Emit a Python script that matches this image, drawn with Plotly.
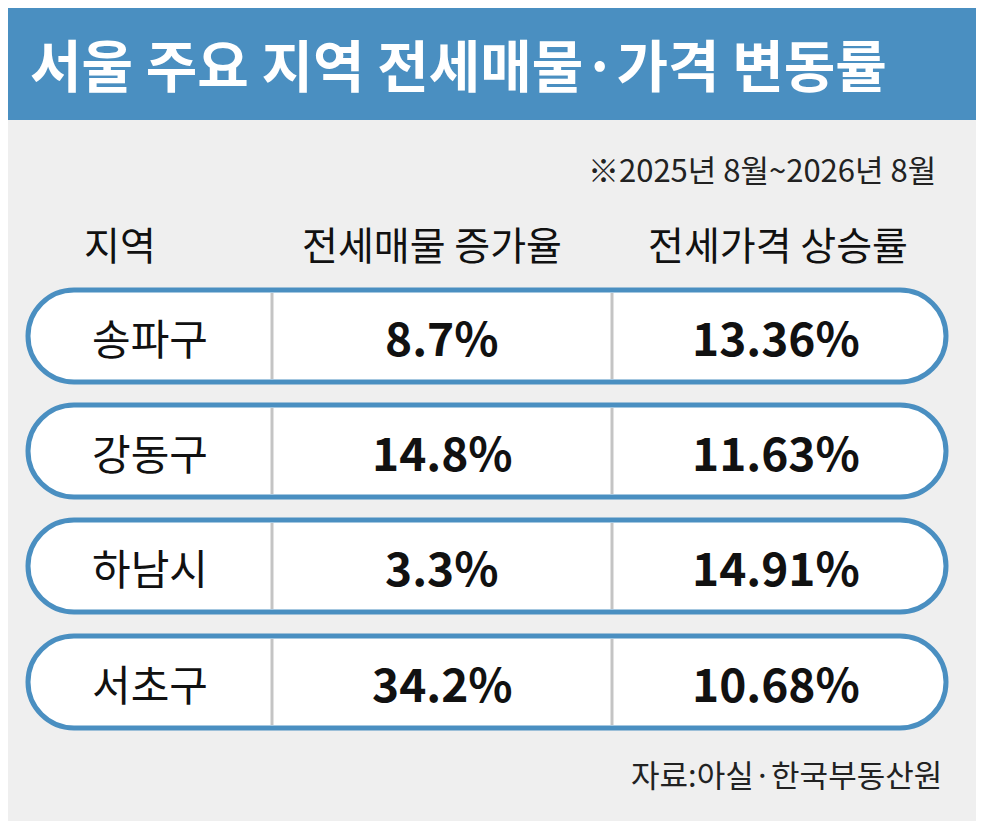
import plotly.graph_objects as go

title = "서울 주요 지역 전세매물·가격 변동률"
period = "※2025년 8월~2026년 8월"
headers = ["지역", "전세매물 증가율", "전세가격 상승률"]
regions = ["송파구", "강동구", "하남시", "서초구"]
listing_growth = ["8.7%", "14.8%", "3.3%", "34.2%"]
price_growth = ["13.36%", "11.63%", "14.91%", "10.68%"]
source = "자료:아실·한국부동산원"

W, H = 984, 821
OFF = 8
BLUE = "#4a8fc1"
FONT = "Noto Sans CJK KR"

fig = go.Figure()
shapes = []
ann = []

shapes.append(dict(type="rect", x0=-20, x1=W+20, y0=-20, y1=120, fillcolor=BLUE, line_width=0, layer="below"))
ann.append(dict(x=28, y=62, text="<b>"+title+"</b>", xanchor="left", font=dict(size=56, color="white", family=FONT)))
ann.append(dict(x=938, y=168, text=period, xanchor="right", font=dict(size=31, color="#222", family=FONT)))

col_x = [120, 432, 778]
for cx, h in zip(col_x, headers):
    ann.append(dict(x=cx, y=243, text=h, font=dict(size=39, color="#111", family=FONT)))

def pill(x0, y0, x1, y1):
    r = (y1 - y0) / 2
    k = 0.5523 * r
    return (f"M {x0+r},{y0} L {x1-r},{y0} C {x1-r+k},{y0} {x1},{y1-r-k} {x1},{y0+r} "
            f"C {x1},{y0+r+k} {x1-r+k},{y1} {x1-r},{y1} L {x0+r},{y1} "
            f"C {x0+r-k},{y1} {x0},{y0+r+k} {x0},{y0+r} C {x0},{y0+r-k} {x0+r-k},{y0} {x0+r},{y0} Z")

row_top = [290, 405, 520, 636]
rh = 92
for i, yt in enumerate(row_top):
    shapes.append(dict(type="path", path=pill(28, yt, 946, yt+rh), fillcolor="white",
                       line=dict(color=BLUE, width=5)))
    for dx in (272, 612):
        shapes.append(dict(type="line", x0=dx, x1=dx, y0=yt+3, y1=yt+rh-3, line=dict(color="#c4c4c4", width=3)))
    yc = yt + rh/2
    ann.append(dict(x=150, y=yc, text=regions[i], font=dict(size=42, color="#111", family=FONT)))
    ann.append(dict(x=442, y=yc, text="<b>"+listing_growth[i]+"</b>", font=dict(size=46, color="#111", family=FONT)))
    ann.append(dict(x=776, y=yc, text="<b>"+price_growth[i]+"</b>", font=dict(size=46, color="#111", family=FONT)))

ann.append(dict(x=944, y=773, text=source, xanchor="right", font=dict(size=31, color="#222", family=FONT)))
for a in ann:
    a.update(xref="x", yref="y", showarrow=False)
    a.setdefault("xanchor", "center")
    a["yanchor"] = "middle"

fig.update_layout(width=W, height=H, margin=dict(l=0, r=0, t=0, b=0),
                  paper_bgcolor="#efefef", plot_bgcolor="#efefef",
                  shapes=shapes, annotations=ann, showlegend=False,
                  xaxis=dict(range=[OFF, W+OFF], visible=False, fixedrange=True),
                  yaxis=dict(range=[H+OFF, OFF], visible=False, fixedrange=True))
fig.write_html("out.html")
